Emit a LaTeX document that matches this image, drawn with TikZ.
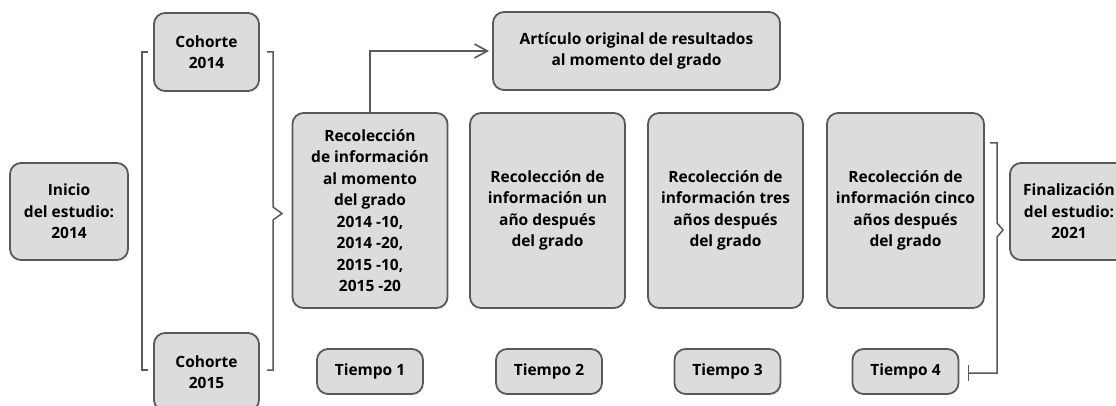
\documentclass[tikz,border=0pt]{standalone}
\usepackage{fontspec}
\setmainfont{Open Sans}
\usetikzlibrary{arrows.meta,calc}
\definecolor{boxfill}{HTML}{DCDCDC}
\definecolor{boxline}{HTML}{595959}
\tikzset{
  box/.style={draw=boxline, line width=1.8pt, fill=boxfill, rounded corners=11pt,
    align=center, font=\bfseries\fontsize{15.5}{21.5}\selectfont, inner sep=2pt},
  brk/.style={draw=boxline, line width=1.5pt},
}
\begin{document}
\begin{tikzpicture}[x=1pt,y=-1pt]
\useasboundingbox (0,0) rectangle (1116,406);
\begin{scope}
\clip (0,0) rectangle (1116,406);
\node[box, minimum width=118pt, minimum height=97pt] (inicio) at (69,211.5) {Inicio\\del estudio:\\2014};
\node[box, minimum width=105pt, minimum height=78pt] (c14) at (206.5,52) {Cohorte\\2014};
\node[box, minimum width=105pt, minimum height=78pt] (c15) at (206.5,372) {Cohorte\\2015};
\node[box, minimum width=287pt, minimum height=78pt] (art) at (636.5,51) {Artículo original de resultados\\al momento del grado};
\node[box, minimum width=155pt, minimum height=195pt] (r1) at (370,210.5) {Recolección\\de información\\al momento\\del grado\\2014 -10,\\2014 -20,\\2015 -10,\\2015 -20};
\node[box, minimum width=155pt, minimum height=195pt] (r2) at (547.5,210.5) {Recolección de\\información un\\año después\\del grado};
\node[box, minimum width=155pt, minimum height=195pt] (r3) at (725.5,210.5) {Recolección de\\información tres\\años después\\del grado};
\node[box, minimum width=157pt, minimum height=195pt] (r4) at (905.5,210.5) {Recolección de\\información cinco\\años después\\del grado};
\node[box, minimum width=106pt, minimum height=45pt] (t1) at (370,371.5) {Tiempo 1};
\node[box, minimum width=106pt, minimum height=45pt] (t2) at (549,371.5) {Tiempo 2};
\node[box, minimum width=106pt, minimum height=45pt] (t3) at (727.5,371.5) {Tiempo 3};
\node[box, minimum width=106pt, minimum height=45pt] (t4) at (905.5,371.5) {Tiempo 4};
\node[box, minimum width=118pt, minimum height=97pt] (fin) at (1069,211.5) {Finalización\\del estudio:\\2021};
% arrow to article
\draw[brk, -{Straight Barb[length=13pt,width=14pt,line width=1.6pt]}] (r1.north) |- ([xshift=-3pt]art.west);
% left bracket
\draw[brk] (148,52) -- (142,52) -- (142,370) -- (148,370);
% right brace
\draw[brk] (267,52) -- (273,52) -- (273,207) -- (282,213.5) -- (273,220) -- (273,370) -- (267,370);
% final brace
\coordinate (t4end) at ($(t4.east)+(9,1.5)$);
\draw[brk] (990,143) -- (997,143) -- (997,223) -- (1003,230) -- (997,237) -- (997,373) -- (t4end);
\draw[brk] ($(t4end)+(0,-8)$) -- ($(t4end)+(0,8)$);
\end{scope}
\end{tikzpicture}
\end{document}
